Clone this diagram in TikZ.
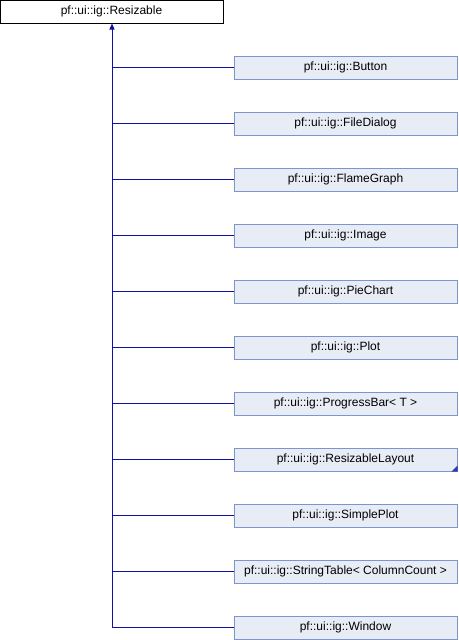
\documentclass[tikz,border=0pt]{standalone}
\usepackage{fontspec}
\setmainfont{Liberation Sans}
\usetikzlibrary{arrows.meta}
\definecolor{edgeblue}{RGB}{16,16,164}
\definecolor{childfill}{RGB}{232,236,245}
\definecolor{childline}{RGB}{124,149,204}
\tikzset{
  basebox/.style={draw=black,fill=white,line width=1pt,minimum width=223pt,minimum height=23pt,inner sep=0pt,font=\fontsize{12}{14}\selectfont},
  childbox/.style={draw=childline,fill=childfill,line width=1pt,minimum width=223pt,minimum height=23pt,inner sep=0pt,font=\fontsize{12}{14}\selectfont},
  inherit/.style={draw=edgeblue,line width=1pt}
}
\begin{document}
\begin{tikzpicture}[x=1pt,y=-1pt,>={Triangle[length=6pt,width=5pt]}]
  \useasboundingbox (0,0) rectangle (458,640);
  \node[basebox] (base) at (111.5,11.5) {pf::ui::ig::Resizable};
  \foreach \name [count=\i] in {Button,FileDialog,FlameGraph,Image,PieChart,Plot,
      {ProgressBar<\ T >},ResizableLayout,SimplePlot,{StringTable<\ ColumnCount >},Window} {
    \node[childbox] (c\i) at (345.5,11.5+56*\i) {pf::ui::ig::\name};
    \coordinate (j\i) at (112,11.5+56*\i);
    \draw[inherit] (j\i) -- (c\i.west);
  }
  % trunk up to the base class
  \draw[inherit,->] (j11) -- (base.south -| j11);
  % more subclasses not shown
  \fill[edgeblue!70!childline] ([xshift=-6pt]c8.south east) -- (c8.south east) -- ([yshift=6pt]c8.south east) -- cycle;
\end{tikzpicture}
\end{document}
